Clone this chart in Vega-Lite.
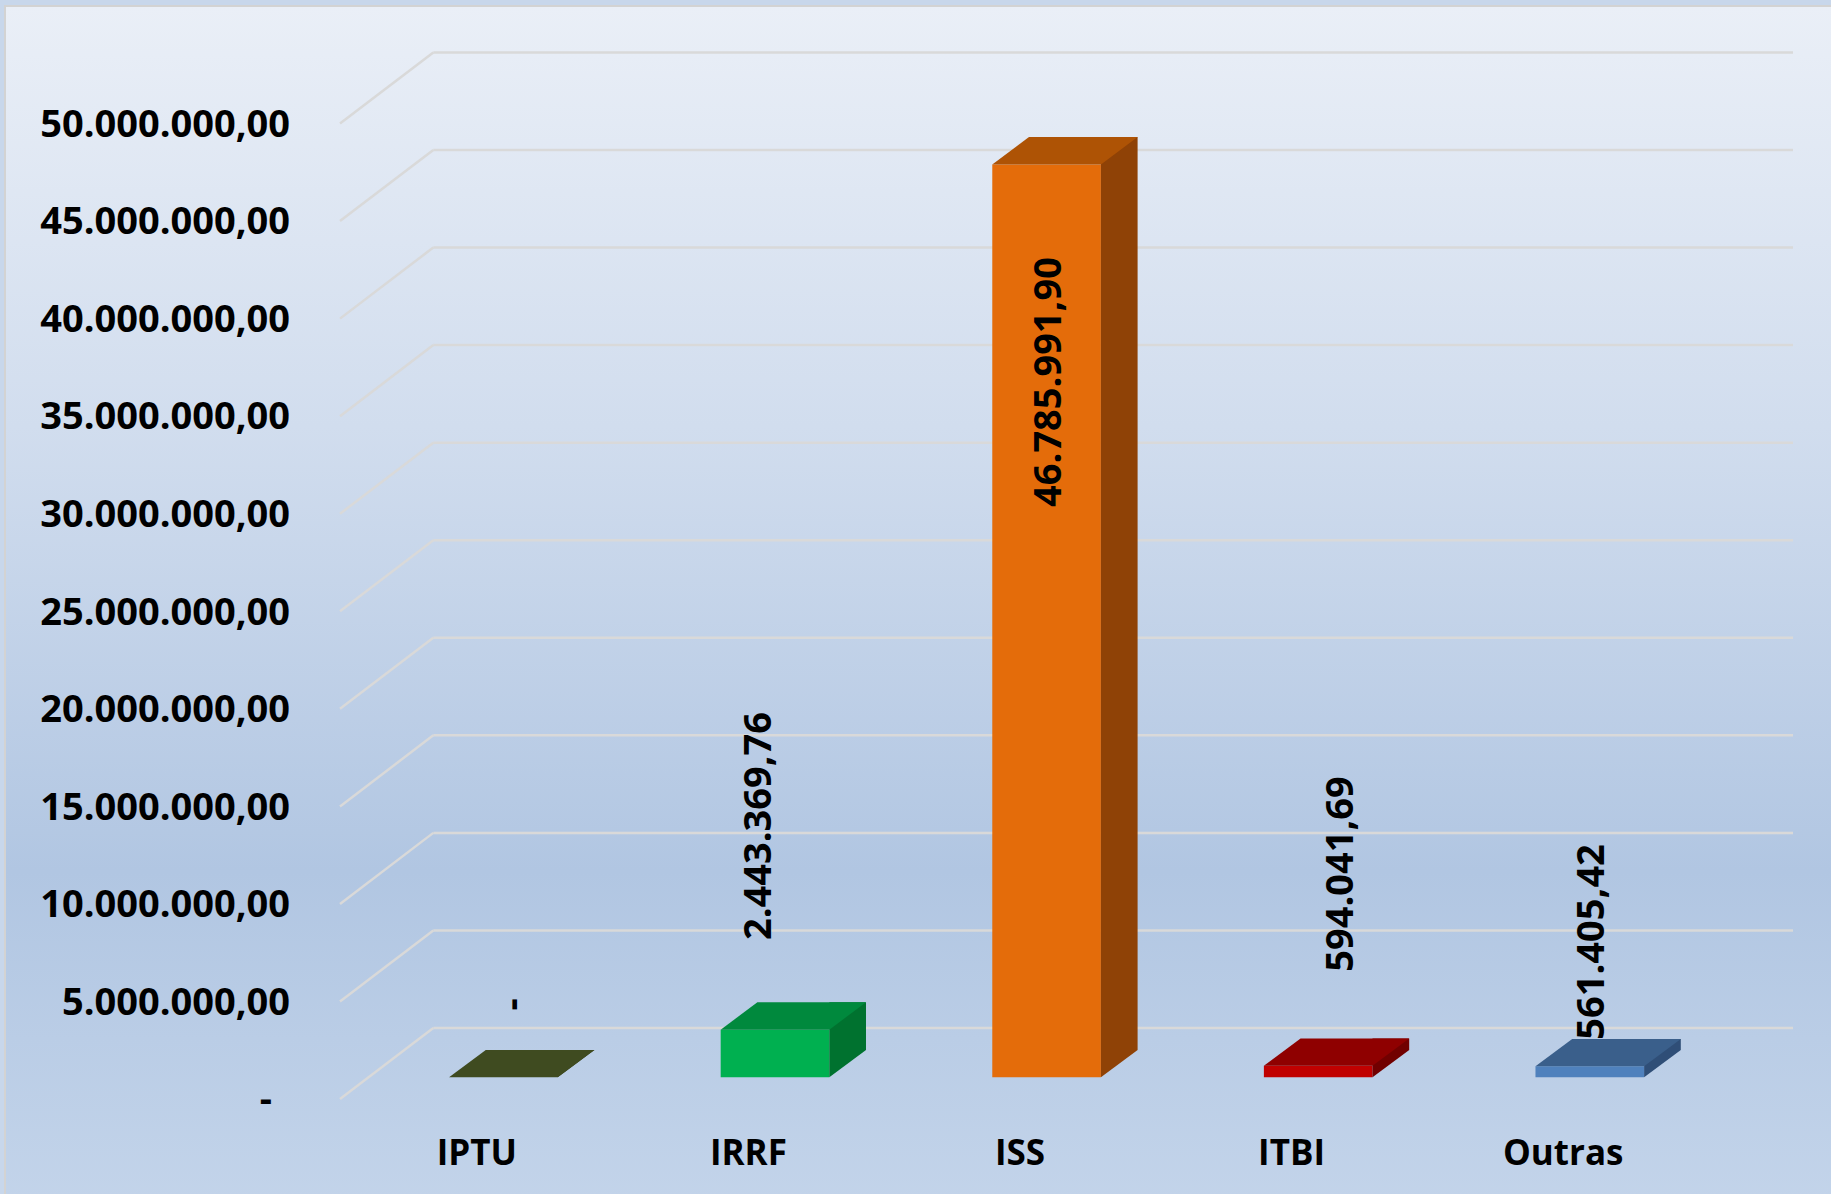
{
  "$schema": "https://vega.github.io/schema/vega-lite/v6.json",
  "width": 1358,
  "height": 975.6,
  "autosize": {"type": "none"},
  "padding": {"left": 367.6, "top": 101.7, "right": 105.4, "bottom": 116.7},
  "background": "#c8d7eb",
  "config": {
    "view": {"stroke": null},
    "axis": {"zindex": 2},
    "locale": {"number": {"decimal": ",", "thousands": ".", "grouping": [3], "currency": ["R$ ", ""]}},
    "font": "Open Sans"
  },
  "datasets": {
    "receitas": [
      {"cat": "IPTU", "v": 0},
      {"cat": "IRRF", "v": 2443369.76},
      {"cat": "ISS", "v": 46785991.9},
      {"cat": "ITBI", "v": 594041.69},
      {"cat": "Outras", "v": 561405.42}
    ],
    "grade": [
      {"g": 0}, {"g": 5000000}, {"g": 10000000}, {"g": 15000000}, {"g": 20000000}, {"g": 25000000},
      {"g": 30000000}, {"g": 35000000}, {"g": 40000000}, {"g": 45000000}, {"g": 50000000}
    ]
  },
  "layer": [
    {
      "data": {"values": [{}]},
      "mark": {
        "type": "rect",
        "fill": {"gradient": "linear", "x1": 0, "y1": 0, "x2": 0, "y2": 1,
          "stops": [
            {"offset": 0, "color": "#eaeff7"},
            {"offset": 0.35, "color": "#d1ddee"},
            {"offset": 0.72, "color": "#b1c6e2"},
            {"offset": 1, "color": "#c3d4ea"}
          ]},
        "stroke": "#d3d3d3", "strokeWidth": 2,
        "xOffset": -362.6, "x2Offset": 120, "yOffset": -95.7, "y2Offset": 130
      },
      "encoding": {"x": {"value": 0}, "x2": {"value": "width"}, "y": {"value": 0}, "y2": {"value": "height"}}
    },
    {
      "data": {"name": "grade"},
      "mark": {"type": "rule", "stroke": "#d9d9d9", "strokeWidth": 2.5, "xOffset": 65.7, "x2Offset": 67.4, "yOffset": -49.3, "y2Offset": -49.3},
      "encoding": {
        "x": {"value": 0}, "x2": {"value": "width"},
        "y": {"field": "g", "type": "quantitative", "axis": null}, "y2": {"field": "g"}
      }
    },
    {
      "data": {"name": "grade"},
      "mark": {"type": "rule", "stroke": "#d9d9d9", "strokeWidth": 2.5, "xOffset": -27.6, "x2Offset": 65.7, "yOffset": 21.8, "y2Offset": -49.3},
      "encoding": {
        "x": {"value": 0}, "x2": {"value": 0},
        "y": {"field": "g", "type": "quantitative", "axis": null}, "y2": {"field": "g"}
      }
    },
    {
      "data": {"name": "grade"},
      "transform": [{"filter": "datum.g > 0"}],
      "mark": {"type": "text", "align": "right", "baseline": "middle", "font": "Open Sans", "fontSize": 38, "fontWeight": "bold", "color": "#000000", "xOffset": -77.6, "yOffset": 24},
      "encoding": {
        "x": {"value": 0},
        "y": {"field": "g", "type": "quantitative", "axis": null},
        "text": {"field": "g", "type": "quantitative", "format": ",.2f"}
      }
    },
    {
      "data": {"name": "grade"},
      "transform": [{"filter": "datum.g === 0"}],
      "mark": {"type": "text", "align": "right", "baseline": "middle", "font": "Open Sans", "fontSize": 38, "fontWeight": "bold", "color": "#000000", "xOffset": -95.6, "yOffset": 24},
      "encoding": {
        "x": {"value": 0},
        "y": {"field": "g", "type": "quantitative", "axis": null},
        "text": {"value": "-"}
      }
    },
    {
      "data": {"name": "receitas"},
      "mark": {"type": "bar"},
      "encoding": {
        "x": {"field": "cat", "type": "nominal", "sort": ["IPTU", "IRRF", "ISS", "ITBI", "Outras"],
          "scale": {"paddingInner": 0.6, "paddingOuter": 0.3},
          "axis": {"title": null, "domain": false, "ticks": false, "tickSize": 0, "grid": false, "zindex": 2,
            "labelAngle": 0, "labelPadding": 76.7, "labelBaseline": "middle", "labelOffset": -26.6,
            "labelFont": "Open Sans", "labelFontSize": 35, "labelFontWeight": "bold", "labelColor": "#000000"}},
        "y": {"field": "v", "type": "quantitative", "scale": {"domain": [0, 50000000], "nice": false, "zero": true}, "axis": null},
        "color": {"field": "cat", "type": "nominal", "legend": null,
          "scale": {"domain": ["IPTU", "IRRF", "ISS", "ITBI", "Outras"], "range": ["#4f6228", "#00b050", "#e46c0a", "#c00000", "#4f81bd"]}}
      }
    },
    {
      "data": {"name": "receitas"},
      "mark": {"type": "bar", "width": 36.7, "xOffset": 72.65, "yOffset": -27.3, "y2Offset": -27.3},
      "encoding": {
        "x": {"field": "cat", "type": "nominal", "sort": ["IPTU", "IRRF", "ISS", "ITBI", "Outras"]},
        "y": {"field": "v", "type": "quantitative", "axis": null},
        "color": {"field": "cat", "type": "nominal", "legend": null,
          "scale": {"domain": ["IPTU", "IRRF", "ISS", "ITBI", "Outras"], "range": ["#323c18", "#00722f", "#8f4206", "#710000", "#2f4e77"]}}
      }
    },
    {
      "data": {"name": "receitas"},
      "mark": {"type": "point", "shape": "M0.5432,0L0.9102,-0.273L0.5432,-0.273Z", "size": 40000, "filled": true, "opacity": 1, "strokeWidth": 0},
      "encoding": {
        "x": {"field": "cat", "type": "nominal", "sort": ["IPTU", "IRRF", "ISS", "ITBI", "Outras"]},
        "y": {"datum": 0, "type": "quantitative", "axis": null},
        "color": {"field": "cat", "type": "nominal", "legend": null,
          "scale": {"domain": ["IPTU", "IRRF", "ISS", "ITBI", "Outras"], "range": ["#323c18", "#00722f", "#8f4206", "#710000", "#2f4e77"]}}
      }
    },
    {
      "data": {"name": "receitas"},
      "mark": {"type": "point", "shape": "M-0.5432,0L0.5432,0L0.9102,-0.273L-0.1762,-0.273Z", "size": 40000, "filled": true, "opacity": 1, "strokeWidth": 0},
      "encoding": {
        "x": {"field": "cat", "type": "nominal", "sort": ["IPTU", "IRRF", "ISS", "ITBI", "Outras"]},
        "y": {"field": "v", "type": "quantitative", "axis": null},
        "color": {"field": "cat", "type": "nominal", "legend": null,
          "scale": {"domain": ["IPTU", "IRRF", "ISS", "ITBI", "Outras"], "range": ["#3f4b20", "#00893d", "#ae5305", "#8f0000", "#3a5f8b"]}}
      }
    },
    {
      "data": {"name": "receitas"},
      "transform": [{"filter": "datum.cat === 'IRRF'"}],
      "mark": {"type": "text", "angle": 270, "align": "left", "baseline": "middle", "font": "Open Sans", "fontSize": 38, "fontWeight": "bold", "color": "#000000", "xOffset": -15.5, "yOffset": -89.6},
      "encoding": {
        "x": {"field": "cat", "type": "nominal", "sort": ["IPTU", "IRRF", "ISS", "ITBI", "Outras"]},
        "y": {"field": "v", "type": "quantitative", "axis": null},
        "text": {"field": "v", "type": "quantitative", "format": ",.2f"}
      }
    },
    {
      "data": {"name": "receitas"},
      "transform": [{"filter": "datum.cat === 'ITBI'"}],
      "mark": {"type": "text", "angle": 270, "align": "left", "baseline": "middle", "font": "Open Sans", "fontSize": 38, "fontWeight": "bold", "color": "#000000", "xOffset": 24, "yOffset": -94},
      "encoding": {
        "x": {"field": "cat", "type": "nominal", "sort": ["IPTU", "IRRF", "ISS", "ITBI", "Outras"]},
        "y": {"field": "v", "type": "quantitative", "axis": null},
        "text": {"field": "v", "type": "quantitative", "format": ",.2f"}
      }
    },
    {
      "data": {"name": "receitas"},
      "transform": [{"filter": "datum.cat === 'Outras'"}],
      "mark": {"type": "text", "angle": 270, "align": "left", "baseline": "middle", "font": "Open Sans", "fontSize": 38, "fontWeight": "bold", "color": "#000000", "xOffset": 3, "yOffset": -26.7},
      "encoding": {
        "x": {"field": "cat", "type": "nominal", "sort": ["IPTU", "IRRF", "ISS", "ITBI", "Outras"]},
        "y": {"field": "v", "type": "quantitative", "axis": null},
        "text": {"field": "v", "type": "quantitative", "format": ",.2f"}
      }
    },
    {
      "data": {"name": "receitas"},
      "transform": [{"filter": "datum.cat === 'ISS'"}],
      "mark": {"type": "text", "angle": 270, "align": "right", "baseline": "middle", "font": "Open Sans", "fontSize": 38, "fontWeight": "bold", "color": "#000000", "xOffset": 3.4, "yOffset": 92.7},
      "encoding": {
        "x": {"field": "cat", "type": "nominal", "sort": ["IPTU", "IRRF", "ISS", "ITBI", "Outras"]},
        "y": {"field": "v", "type": "quantitative", "axis": null},
        "text": {"field": "v", "type": "quantitative", "format": ",.2f"}
      }
    },
    {
      "data": {"name": "receitas"},
      "transform": [{"filter": "datum.cat === 'IPTU'"}],
      "mark": {"type": "text", "angle": 270, "align": "center", "baseline": "middle", "font": "Open Sans", "fontSize": 38, "fontWeight": "bold", "color": "#000000", "xOffset": 10.6, "yOffset": -73},
      "encoding": {
        "x": {"field": "cat", "type": "nominal", "sort": ["IPTU", "IRRF", "ISS", "ITBI", "Outras"]},
        "y": {"field": "v", "type": "quantitative", "axis": null},
        "text": {"value": "-"}
      }
    }
  ],
  "resolve": {"scale": {"color": "independent"}}
}
